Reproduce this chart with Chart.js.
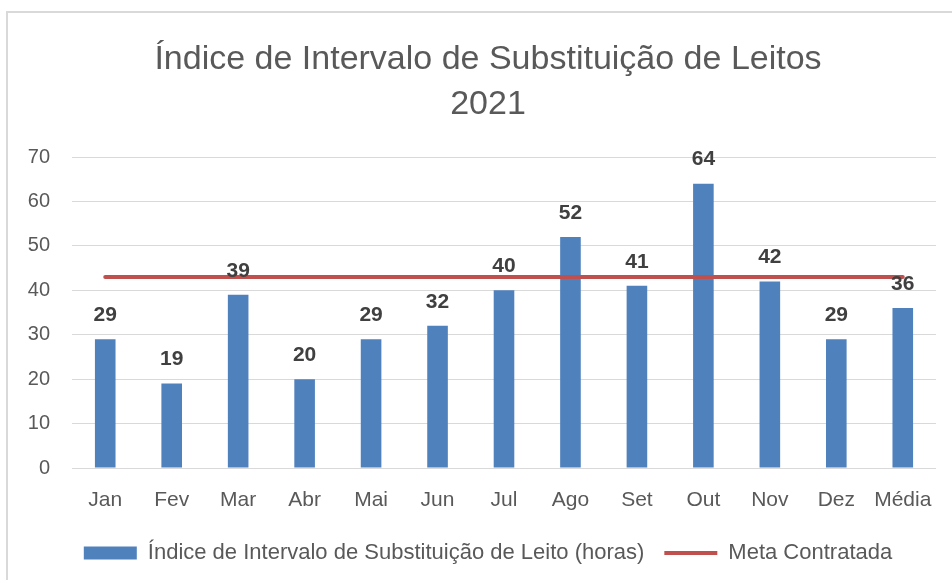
<!DOCTYPE html>
<html>
<head>
<meta charset="utf-8">
<script src="https://cdn.jsdelivr.net/npm/chart.js@4.4.0/dist/chart.umd.min.js"></script>
<style>
  html, body { margin: 0; padding: 0; background: #fff; overflow: hidden; }
  #frame { position: absolute; left: 6px; top: 11px; width: 980px; height: 620px; border: 2px solid #d9d9d9; }
  #wrap { position: absolute; left: 0; top: 0; width: 952px; height: 580px; }
</style>
</head>
<body>
<div id="frame"></div>
<div id="wrap"><canvas id="myChart" width="952" height="580"></canvas></div>
<script>
// chart data
var categories = ['Jan', 'Fev', 'Mar', 'Abr', 'Mai', 'Jun', 'Jul', 'Ago', 'Set', 'Out', 'Nov', 'Dez', 'Média'];
var indiceHoras = [29, 19, 39, 20, 29, 32, 40, 52, 41, 64, 42, 29, 36];
var metaContratada = [43, 43, 43, 43, 43, 43, 43, 43, 43, 43, 43, 43, 43];
var yTicks = [0, 10, 20, 30, 40, 50, 60, 70];

var fontName = "'Liberation Sans', Arial, sans-serif";

// draws the numbers above each bar
var barLabels = {
    id: 'barLabels',
    afterDatasetsDraw: function(chart) {
        var ctx = chart.ctx;
        var meta = chart.getDatasetMeta(0);
        ctx.save();
        ctx.font = "bold 21px " + fontName;
        ctx.fillStyle = '#404040';
        ctx.textAlign = 'center';
        ctx.textBaseline = 'middle';
        meta.data.forEach(function(bar, i) {
            ctx.fillText(String(indiceHoras[i]), bar.x, bar.y - 24);
        });
        ctx.restore();
    }
};

var ctx = document.getElementById('myChart').getContext('2d');
var myChart = new Chart(ctx, {
    data: {
        labels: categories,
        datasets: [
            {
                type: 'bar',
                label: 'Índice de Intervalo de Substituição de Leito (horas)',
                data: indiceHoras,
                backgroundColor: '#4f81bd',
                categoryPercentage: 1,
                barPercentage: 0.31,
                order: 2
            },
            {
                type: 'line',
                label: 'Meta Contratada',
                data: metaContratada,
                borderColor: '#c0504d',
                backgroundColor: '#c0504d',
                borderWidth: 4,
                pointRadius: 0,
                borderCapStyle: 'round',
                order: 1
            }
        ]
    },
    options: {
        responsive: false,
        animation: false,
        layout: { padding: { top: 0, left: 40, right: 16, bottom: 6 } },
        plugins: {
            title: {
                display: true,
                text: ['Índice de Intervalo de Substituição de Leitos', '2021'],
                color: '#595959',
                font: { family: fontName, size: 34, weight: 'normal', lineHeight: 1.3 },
                padding: { top: 38, bottom: 30.6 }
            },
            legend: {
                position: 'bottom',
                labels: {
                    color: '#595959',
                    font: { family: fontName, size: 22 },
                    usePointStyle: true,
                    pointStyleWidth: 53,
                    boxHeight: 13,
                    padding: 20,
                    generateLabels: function(chart) {
                        return chart.data.datasets.map(function(ds, i) {
                            return {
                                text: ds.label,
                                fillStyle: ds.backgroundColor,
                                strokeStyle: i === 0 ? ds.backgroundColor : ds.borderColor,
                                lineWidth: i === 0 ? 0 : 4,
                                pointStyle: i === 0 ? 'rect' : 'line',
                                fontColor: '#595959',
                                datasetIndex: i
                            };
                        });
                    }
                }
            },
            tooltip: { enabled: false }
        },
        scales: {
            x: {
                grid: { display: false, drawTicks: false },
                border: { display: false },
                ticks: { color: '#595959', font: { family: fontName, size: 21 }, padding: 20, maxRotation: 0 },
                afterFit: function(axis) { axis.height = 54; }
            },
            y: {
                min: 0,
                max: 70,
                afterBuildTicks: function(axis) {
                    axis.ticks = yTicks.map(function(v) { return { value: v }; });
                },
                grid: { color: '#d9d9d9', lineWidth: 1, drawTicks: false },
                border: { display: false },
                ticks: { color: '#595959', font: { family: fontName, size: 20 }, padding: 22 },
                afterFit: function(axis) {
                    axis.width = 32;
                    // labels stick out to the left of the narrow axis box, so don't clip them
                    axis._computeLabelArea = function() { return undefined; };
                }
            }
        }
    },
    plugins: [barLabels]
});
</script>
</body>
</html>
